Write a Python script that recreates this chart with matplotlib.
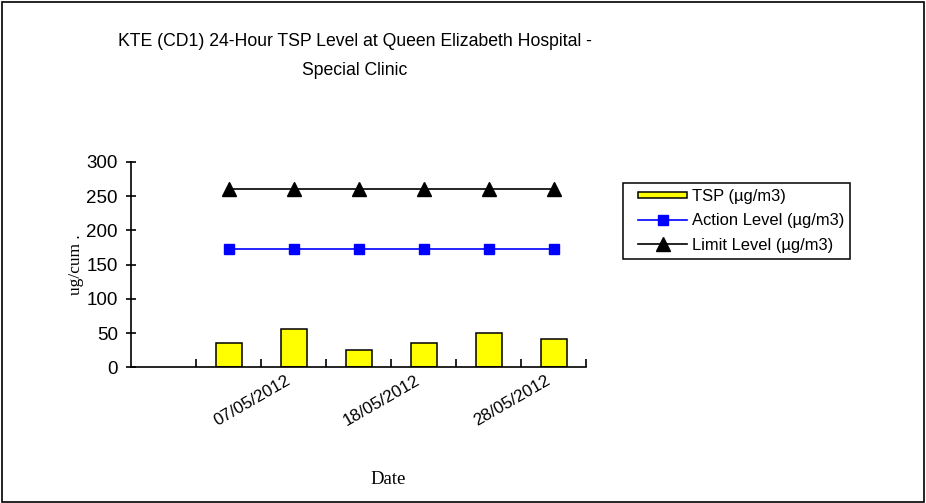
import numpy as np
import matplotlib

matplotlib.use("Agg")
import matplotlib.pyplot as plt
from matplotlib.patches import Rectangle
from matplotlib.legend_handler import HandlerPatch, HandlerLine2D

# Categories (first slot is an empty category, as in the original sheet)
dates = ["", "01/05/2012", "07/05/2012", "12/05/2012", "18/05/2012", "23/05/2012", "28/05/2012"]
tsp = [np.nan, 35, 55.5, 26, 35, 50, 41]
action_level = [np.nan, 173, 173, 173, 173, 173, 173]
limit_level = [np.nan, 260, 260, 260, 260, 260, 260]

W, H = 926, 503
fig = plt.figure(figsize=(W / 100, H / 100), dpi=100)
fig.patch.set_facecolor("white")

# chart-area border
fig.patches.append(Rectangle((2 / W, 1 / H), 922 / W, 500 / H, transform=fig.transFigure,
                             fill=False, edgecolor="black", linewidth=1.2))

ax = fig.add_axes([131 / W, 1 - 367.3 / H, 455 / W, 205.3 / H])
x = np.arange(len(dates))

bars = ax.bar(x, tsp, width=0.4, color="#FFFF00", edgecolor="black", linewidth=1.1,
              label="TSP (µg/m3)", zorder=2)
l_act, = ax.plot(x, action_level, color="#0000FF", lw=1.2, marker="s", ms=7,
                 label="Action Level (µg/m3)", zorder=3)
l_lim, = ax.plot(x, limit_level, color="black", lw=1.2, marker="^", ms=9.5,
                 label="Limit Level (µg/m3)", zorder=3)

ax.set_xlim(-0.5, len(dates) - 0.5)
ax.set_ylim(0, 300)
ax.set_yticks(range(0, 301, 50))
for s in ("top", "right"):
    ax.spines[s].set_visible(False)
for s in ("left", "bottom"):
    ax.spines[s].set_linewidth(1.2)

ax.tick_params(axis="y", direction="inout", length=7, width=1.2, labelsize=13.5, pad=6)
for lab in ax.get_yticklabels():
    lab.set_fontfamily("Liberation Sans")

# category boundaries as minor ticks, labels on every other category
# (labels nudged left a little, like the spreadsheet renders them)
ax.set_xticks(x[::2] - 0.13)
ax.set_xticklabels([dates[i] for i in x[::2]], rotation=30, ha="right",
                   va="top", rotation_mode="anchor", fontsize=12.3,
                   fontfamily="Liberation Sans")
ax.set_xticks(list(x[:-1] + 0.5) + [len(dates) - 0.5], minor=True)
ax.tick_params(axis="x", which="major", length=0, pad=4)
ax.tick_params(axis="x", which="minor", direction="in", length=6, width=1.2)

ax.set_ylabel("ug/cum .", fontfamily="Liberation Serif", fontsize=12.5, labelpad=2)
fig.text(388 / W, 1 - 480 / H, "Date", ha="center", va="center",
         fontfamily="Liberation Serif", fontsize=13.5)

fig.text(355 / W, 1 - 56 / H,
         "KTE (CD1) 24-Hour TSP Level at Queen Elizabeth Hospital -\nSpecial Clinic",
         ha="center", va="center", fontsize=12.7, fontfamily="Liberation Sans",
         linespacing=1.85)


def _flat_bar(legend, orig_handle, xdescent, ydescent, width, height, fontsize):
    return Rectangle((-xdescent, -ydescent + height * 0.2), width, height * 0.6)


leg = fig.legend([bars[1], l_act, l_lim],
                 ["TSP (µg/m3)", "Action Level (µg/m3)", "Limit Level (µg/m3)"],
                 loc="upper left",
                 bbox_to_anchor=(623 / W, 1 - 183 / H), borderaxespad=0,
                 fancybox=False, edgecolor="black", framealpha=1,
                 prop={"family": "Liberation Sans", "size": 11.9},
                 handlelength=3.53, handletextpad=0.3, labelspacing=0.58,
                 borderpad=0.35,
                 handler_map={Rectangle: HandlerPatch(patch_func=_flat_bar, xpad=0.56),
                              type(l_act): HandlerLine2D(xpad=0.56)})
leg.get_frame().set_linewidth(1.1)

fig.savefig("out.png", dpi=100)
